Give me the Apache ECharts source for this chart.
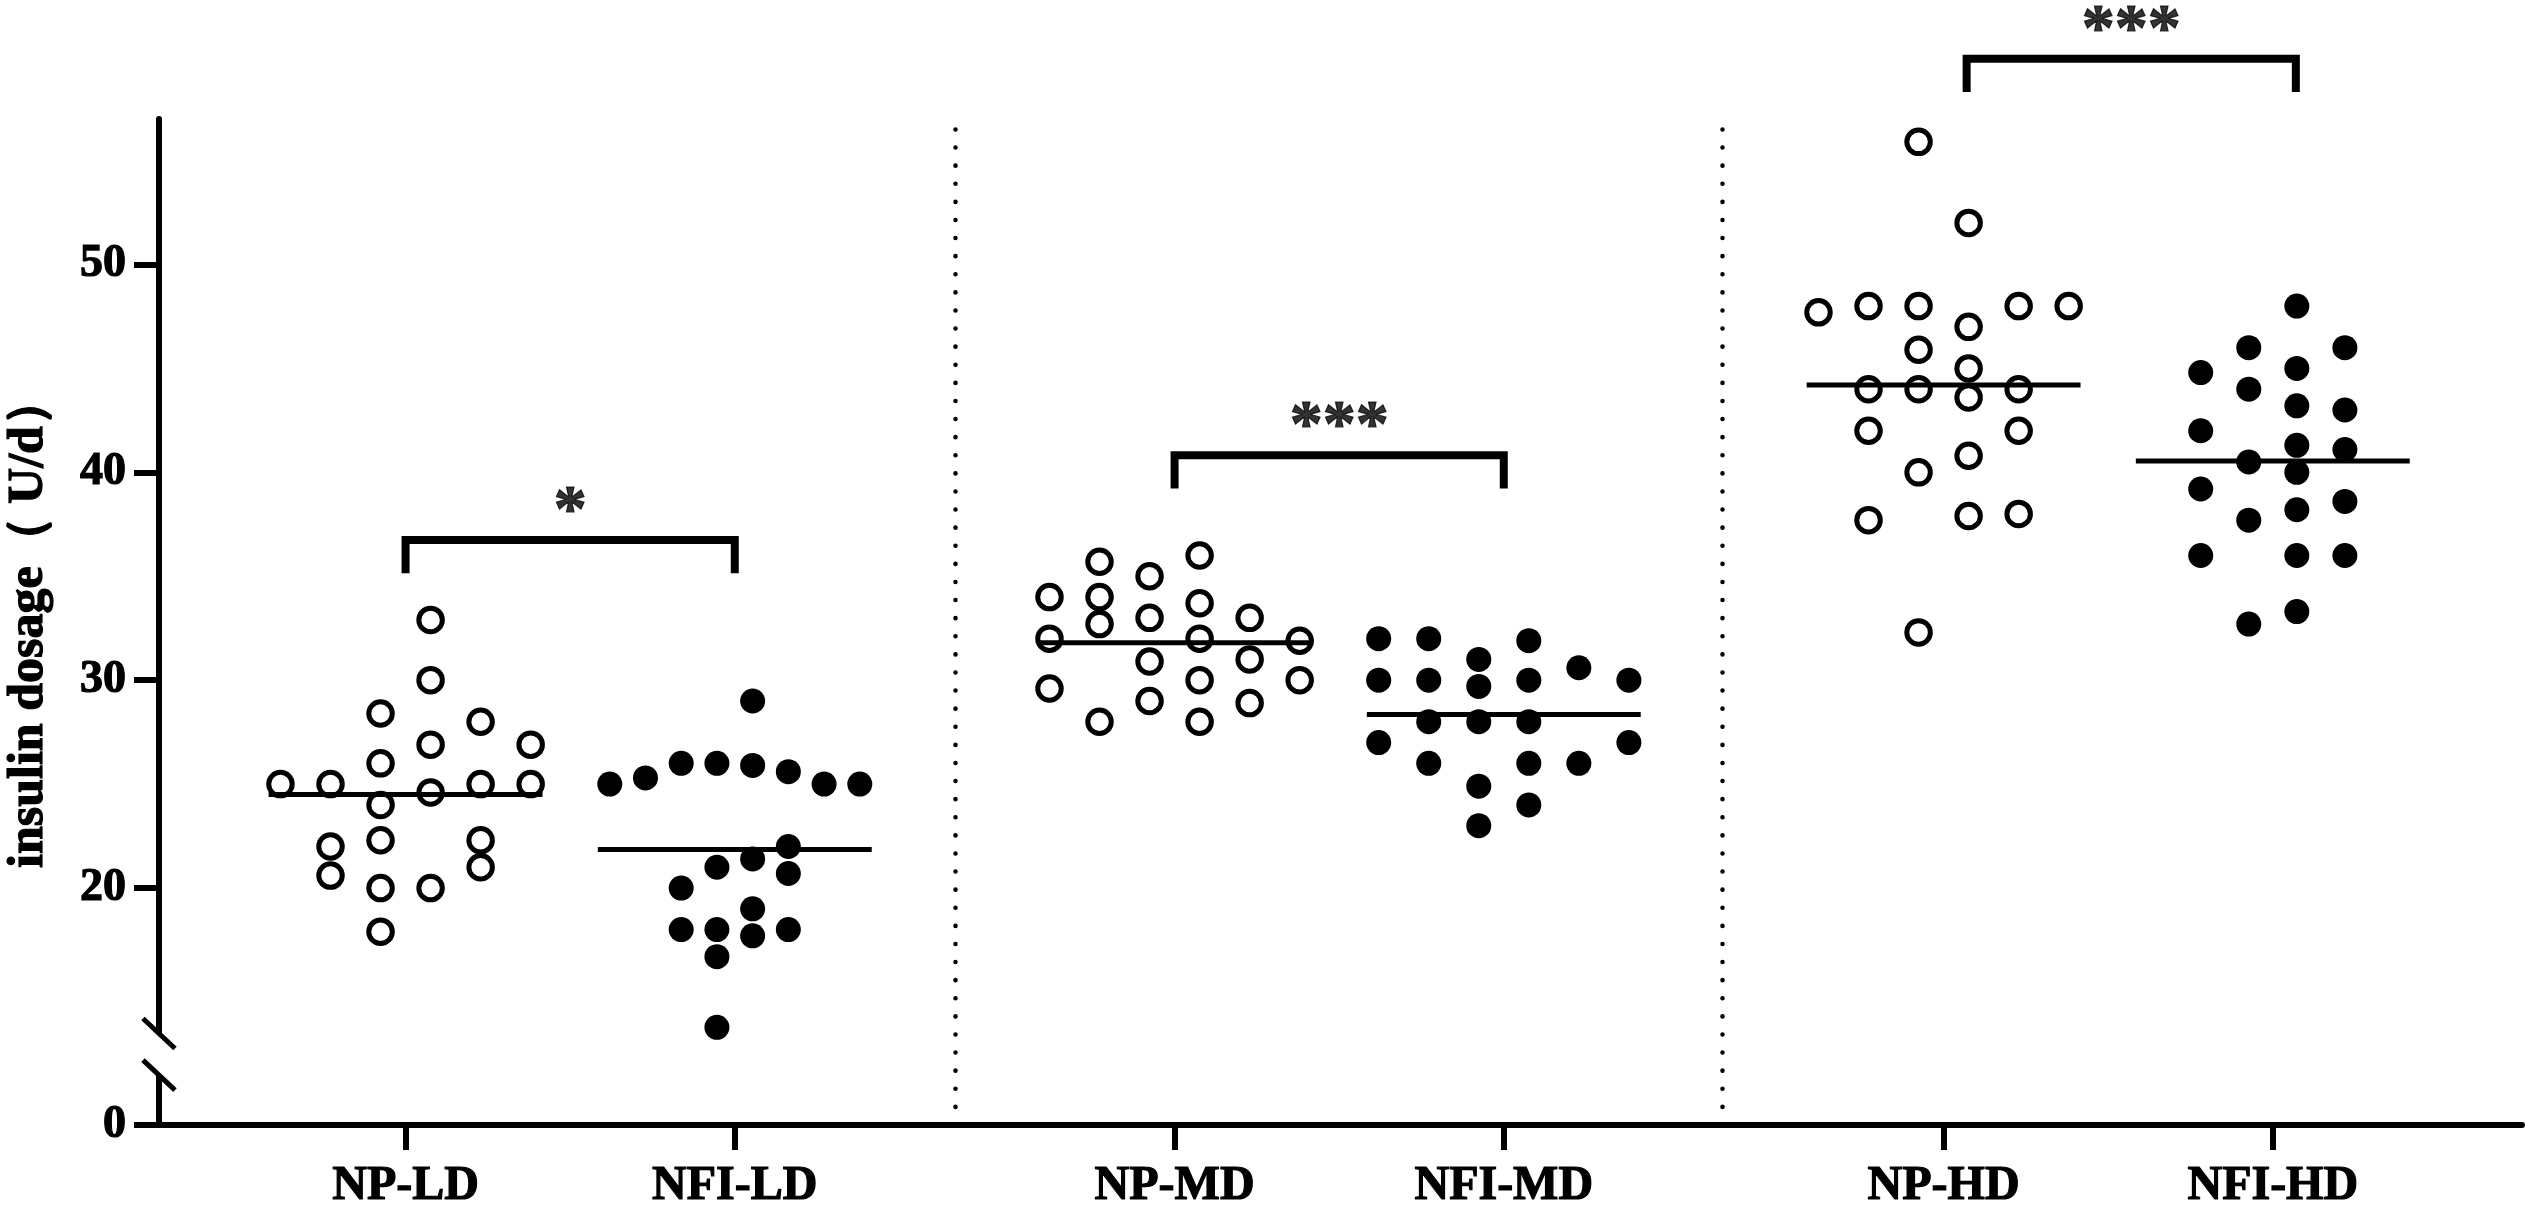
<!DOCTYPE html>
<html><head><meta charset="utf-8">
<script src="https://cdn.jsdelivr.net/npm/echarts@6.0.0/dist/echarts.min.js"></script>
<style>html,body{margin:0;padding:0;background:#fff}#c{width:2525px;height:1205px}</style>
</head><body><div id="c"></div>
<script>
// ---------- data ----------
const categories = ['NP-LD', 'NFI-LD', 'NP-MD', 'NFI-MD', 'NP-HD', 'NFI-HD'];

const npLD      = [32.9, 30.0, 28.4, 28.0, 26.9, 26.9, 26.0, 25.0, 25.0, 25.0, 25.0, 24.6, 24.0, 22.3, 22.0, 22.3, 20.6, 21.0, 20.0, 20.0, 17.9];
const npLDSlot  = [0.5, 0.5, -0.5, 1.5, 0.5, 2.5, -0.5, -2.5, -1.5, 1.5, 2.5, 0.5, -0.5, -0.5, -1.5, 1.5, -1.5, 1.5, -0.5, 0.5, -0.5];

const nfiLD     = [29.0, 26.0, 26.0, 25.9, 25.6, 25.3, 25.0, 25.0, 25.0, 22.0, 21.4, 21.0, 20.7, 20.0, 19.0, 18.0, 18.0, 18.0, 17.7, 16.7, 13.3];
const nfiLDSlot = [0.5, -1.5, -0.5, 0.5, 1.5, -2.5, -3.5, 2.5, 3.5, 1.5, 0.5, -0.5, 1.5, -1.5, 0.5, -1.5, -0.5, 1.5, 0.5, -0.5, -0.5];

const npMD      = [36.0, 35.7, 35.0, 34.0, 34.0, 33.7, 33.0, 33.0, 32.7, 32.0, 32.0, 31.9, 30.9, 31.0, 29.6, 30.0, 30.0, 29.0, 28.9, 28.0, 28.0];
const npMDSlot  = [0.5, -1.5, -0.5, -2.5, -1.5, 0.5, -0.5, 1.5, -1.5, -2.5, 0.5, 2.5, -0.5, 1.5, -2.5, 0.5, 2.5, -0.5, 1.5, -1.5, 0.5];

const nfiMD     = [32.0, 32.0, 31.9, 31.0, 30.6, 30.0, 30.0, 30.0, 30.0, 29.7, 28.0, 28.0, 28.0, 27.0, 27.0, 26.0, 26.0, 26.0, 24.9, 24.0, 23.0];
const nfiMDSlot = [-2.5, -1.5, 0.5, -0.5, 1.5, -2.5, -1.5, 0.5, 2.5, -0.5, -1.5, -0.5, 0.5, -2.5, 2.5, -1.5, 0.5, 1.5, -0.5, 0.5, -0.5];

const npHD      = [55.9, 52.0, 47.7, 48.0, 48.0, 48.0, 48.0, 47.0, 45.9, 45.0, 44.0, 44.0, 44.0, 43.6, 42.0, 42.0, 40.8, 40.0, 37.7, 37.9, 38.0, 32.3];
const npHDSlot  = [-0.5, 0.5, -2.5, -1.5, -0.5, 1.5, 2.5, 0.5, -0.5, 0.5, -1.5, -0.5, 1.5, 0.5, -1.5, 1.5, 0.5, -0.5, -1.5, 0.5, 1.5, -0.5];

const nfiHD     = [48.0, 46.0, 46.0, 44.8, 45.0, 44.0, 43.2, 43.0, 42.0, 41.3, 41.1, 40.5, 40.0, 39.2, 38.6, 38.2, 37.7, 36.0, 36.0, 36.0, 33.3, 32.7];
const nfiHDSlot = [0.5, -0.5, 1.5, -1.5, 0.5, -0.5, 0.5, 1.5, -1.5, 0.5, 1.5, -0.5, 0.5, -1.5, 1.5, 0.5, -0.5, -1.5, 0.5, 1.5, 0.5, -0.5];

const means = [24.5, 21.85, 31.8, 28.35, 44.2, 40.55];
const yTickValues = [0, 20, 30, 40, 50];
const sigLabels = ['*', '***', '***'];
const yTitle = 'insulin dosage（ U/d）';

// ---------- layout / style ----------
const PAD = 0.749, GROUP_GAP = 0.336, X_MAX = 7.178;
const STEP = [0.152, 0.1085, 0.152, 0.152, 0.152, 0.146];
const MEAN_HALF = 0.416;
const BREAK = { start: 2.4, end: 13, gap: 2 };
const BRACKET_TOP = [36.74, 40.82, 59.9];
const BRACKET_LEG = 1.6;
const BRACKET_SHIFT = [0, 0, 0.07];
const FONT = '"Liberation Serif", "Times New Roman", serif';
const HEAVY = { textBorderColor: '#000', textBorderWidth: 1.2 };

const pos = categories.map((c, i) => PAD + i + GROUP_GAP * Math.floor(i / 2));
const groups = [[npLD, npLDSlot], [nfiLD, nfiLDSlot], [npMD, npMDSlot], [nfiMD, nfiMDSlot], [npHD, npHDSlot], [nfiHD, nfiHDSlot]];

const series = [];
groups.forEach(([vals, slots], i) => {
  const open = i % 2 === 0;
  series.push({
    type: 'scatter', silent: true, z: 3,
    data: vals.map((v, k) => [pos[i] + slots[k] * STEP[i], v]),
    symbol: 'circle',
    symbolSize: open ? 23.5 : 25,
    itemStyle: open ? { color: 'rgba(0,0,0,0)', borderColor: '#000', borderWidth: 5, opacity: 1 }
                    : { color: '#000', opacity: 1 }
  });
});
means.forEach((m, i) => {
  series.push({
    type: 'line', silent: true, z: 4, symbol: 'none',
    data: [[pos[i] - MEAN_HALF, m], [pos[i] + MEAN_HALF, m]],
    lineStyle: { color: '#000', width: 5 }
  });
});
sigLabels.forEach((lab, g) => {
  const x1 = pos[2 * g] + BRACKET_SHIFT[g], x2 = pos[2 * g + 1] + BRACKET_SHIFT[g];
  const top = BRACKET_TOP[g];
  series.push({
    type: 'line', silent: true, z: 5, symbol: 'none', clip: false,
    data: [[x1, top - BRACKET_LEG], [x1, top], [x2, top], [x2, top - BRACKET_LEG]],
    lineStyle: { color: '#000', width: 8, join: 'miter', cap: 'butt' }
  });
  series.push({
    type: 'scatter', silent: true, z: 6, clip: false,
    data: [[(x1 + x2) / 2, top]],
    symbolSize: 1, itemStyle: { color: 'rgba(0,0,0,0)' },
    label: Object.assign({ show: true, formatter: lab, position: 'inside', offset: [0, -27],
             fontSize: 66, fontWeight: 'bold', fontFamily: FONT, color: '#000' }, HEAVY)
  });
});
// dotted separators between groups
series.push({
  type: 'line', data: [], silent: true,
  markLine: {
    silent: true, symbol: ['none', 'none'], animation: false,
    label: { show: false },
    lineStyle: { color: '#000', width: 4.5, type: [0.1, 18], cap: 'round' },
    data: [{ xAxis: (pos[1] + pos[2]) / 2 }, { xAxis: (pos[3] + pos[4]) / 2 }]
  }
});

const chart = echarts.init(document.getElementById('c'));
chart.setOption({
  animation: false,
  backgroundColor: '#fff',
  grid: { left: 159, right: 3, top: 119, bottom: 80, containLabel: false, outerBoundsMode: 'none' },
  xAxis: {
    type: 'value', min: 0, max: X_MAX,
    splitLine: { show: false },
    axisLine: { show: true, lineStyle: { color: '#000', width: 6 } },
    axisTick: { show: true, customValues: pos, length: 25, lineStyle: { color: '#000', width: 6 } },
    axisLabel: Object.assign({
      show: true, customValues: pos, margin: 38,
      formatter: v => { let b = 0; pos.forEach((p, i) => { if (Math.abs(p - v) < Math.abs(pos[b] - v)) b = i; }); return categories[b]; },
      fontSize: 48, fontWeight: 'bold', fontFamily: FONT, color: '#000'
    }, HEAVY)
  },
  yAxis: {
    type: 'value', min: 0, max: 57,
    breaks: [BREAK],
    breakArea: { show: false },
    splitLine: { show: false },
    axisLine: { show: true, lineStyle: { color: '#000', width: 6 } },
    axisTick: { show: true, customValues: yTickValues, length: 25, lineStyle: { color: '#000', width: 6 } },
    axisLabel: Object.assign({ show: true, customValues: yTickValues, margin: 33,
      fontSize: 46, fontWeight: 'bold', fontFamily: FONT, color: '#000' }, HEAVY),
    name: yTitle, nameLocation: 'middle', nameGap: 105,
    nameTextStyle: Object.assign({ fontSize: 50, fontWeight: 'bold', fontFamily: FONT, color: '#000' }, HEAVY)
  },
  series: series
});

// axis-break marks on the y axis line
const ax = chart.convertToPixel({ xAxisIndex: 0 }, 0);
const yHi = chart.convertToPixel({ yAxisIndex: 0 }, BREAK.end);
const yLo = chart.convertToPixel({ yAxisIndex: 0 }, BREAK.start);
chart.setOption({
  graphic: [
    { type: 'rect', z: 100, silent: true, shape: { x: ax - 6, y: yHi, width: 12, height: yLo - yHi }, style: { fill: '#fff' } },
    { type: 'line', z: 101, silent: true, shape: { x1: ax - 16, y1: yHi - 15, x2: ax + 16, y2: yHi + 15 }, style: { stroke: '#000', lineWidth: 5 } },
    { type: 'line', z: 101, silent: true, shape: { x1: ax - 16, y1: yLo - 15, x2: ax + 16, y2: yLo + 15 }, style: { stroke: '#000', lineWidth: 5 } }
  ]
});
</script></body></html>
